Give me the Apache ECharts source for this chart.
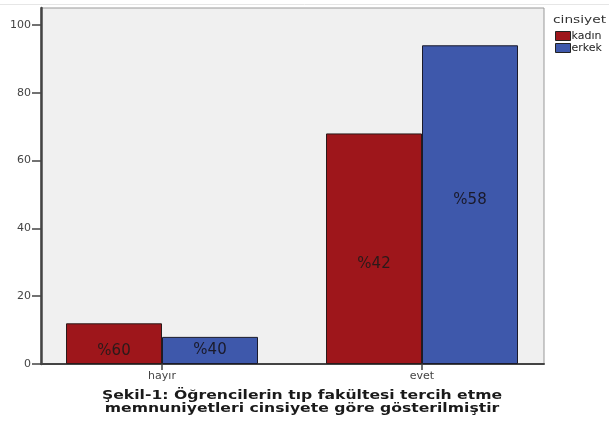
<!DOCTYPE html>
<html>
<head>
<meta charset="utf-8">
<script src="https://cdn.jsdelivr.net/npm/echarts@6/dist/echarts.min.js"></script>
<style>html,body{margin:0;padding:0;background:#fff;}#c{width:609px;height:425px;}</style>
</head>
<body>
<div id="c"></div>
<script>
var categories = ['hayır', 'evet'];
var kadinValues = [12, 68];
var erkekValues = [8, 94];
var kadinLabels = ['%60', '%42'];
var erkekLabels = ['%40', '%58'];
var yTicks = [0, 20, 40, 60, 80, 100];

var chart = echarts.init(document.getElementById('c'));
var font = 'DejaVu Sans, Verdana, sans-serif';
function mk(vals, labs, offs) {
  return vals.map(function (v, i) {
    return { value: v, label: { formatter: labs[i], offset: [0, offs[i]] } };
  });
}
chart.setOption({
  animation: false,
  textStyle: { fontFamily: font },
  graphic: [
    { type: 'text', x: 553, y: 15, style: { text: 'cinsiyet', font: '11px ' + font, fill: '#333' }, scaleX: 1.25 },
    { type: 'text', x: 302, y: 390, scaleX: 1.36, style: { text: 'Şekil-1: Öğrencilerin tıp fakültesi tercih etme\nmemnuniyetleri cinsiyete göre gösterilmiştir', textAlign: 'center', font: 'bold 11.5px ' + font, fill: '#1a1a1a', lineHeight: 12.5 } },
    { type: 'line', shape: { x1: 0, y1: 4.5, x2: 609, y2: 4.5 }, style: { stroke: '#e6e6e6', lineWidth: 1 } }
  ],
  legend: {
    left: 555, top: 30, orient: 'vertical', itemWidth: 15, itemHeight: 9, itemGap: 0, padding: 0,
    icon: 'rect',
    itemStyle: { borderColor: '#222', borderWidth: 1 },
    textStyle: { fontSize: 11, lineHeight: 12, color: '#222', padding: [0, 0, 0, -4] },
    data: ['kadın', 'erkek']
  },
  grid: [
    { left: 41, top: 8, width: 503, height: 356, show: true, backgroundColor: '#f0f0f0', borderColor: '#999', borderWidth: 1 },
    { left: 32, top: 8, width: 520, height: 356, show: false }
  ],
  xAxis: [
    { gridIndex: 0, type: 'value', min: 0, max: 1, axisLabel: { show: false }, axisTick: { show: false }, splitLine: { show: false },
      axisLine: { show: true, lineStyle: { color: '#444', width: 2 } } },
    { gridIndex: 1, type: 'category', data: categories, axisLine: { show: false },
      axisTick: { show: true, alignWithLabel: true, length: 6, lineStyle: { color: '#444', width: 1.5 } },
      axisLabel: { fontSize: 11, color: '#444', margin: 7 } }
  ],
  yAxis: [
    { gridIndex: 0, type: 'value', min: 0, max: 105, interval: 20, splitLine: { show: false },
      axisLine: { show: true, lineStyle: { color: '#444', width: 2.5 } },
      axisTick: { show: true, length: 9, customValues: yTicks, lineStyle: { color: '#444', width: 1.5 } },
      axisLabel: { fontSize: 11, color: '#444', margin: 10, customValues: yTicks } },
    { gridIndex: 1, type: 'value', min: 0, max: 105, show: false }
  ],
  series: [
    { name: 'kadın', type: 'bar', xAxisIndex: 1, yAxisIndex: 1, barWidth: 96, barGap: '0%',
      itemStyle: { color: '#9e161b', borderColor: '#2a1a1a', borderWidth: 1 },
      label: { show: true, position: 'inside', fontSize: 15, color: '#2a1a1a' },
      data: mk(kadinValues, kadinLabels, [7, 15]) },
    { name: 'erkek', type: 'bar', xAxisIndex: 1, yAxisIndex: 1, barWidth: 96, barGap: '0%',
      itemStyle: { color: '#3e58ab', borderColor: '#1a1a2a', borderWidth: 1 },
      label: { show: true, position: 'inside', fontSize: 15, color: '#1a1a2a' },
      data: mk(erkekValues, erkekLabels, [0, -5]) }
  ]
});
</script>
</body>
</html>
